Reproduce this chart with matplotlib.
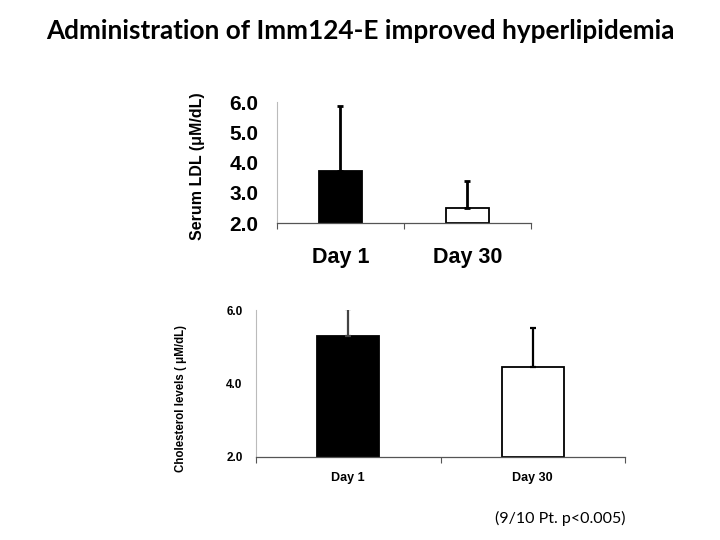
import matplotlib
matplotlib.use("Agg")
import matplotlib.pyplot as plt

# data
days = ["Day 1", "Day 30"]
ldl_mean = [3.73, 2.5]
ldl_err = [2.14, 0.89]
chol_mean = [5.28, 4.44]
chol_err = [0.75, 1.08]
ldl_ticks = [2.0, 3.0, 4.0, 5.0, 6.0]
ldl_marks = [2.0, 3.0, 5.0]
chol_ticks = [2.0, 4.0, 6.0]

plt.rcParams['font.family'] = ['Liberation Sans', 'DejaVu Sans']

fig = plt.figure(figsize=(7.2, 5.4), dpi=100)
fig.patch.set_facecolor('white')

fig.text(0.5, 0.943, "Administration of Imm124-E improved hyperlipidemia",
         ha='center', va='center', fontsize=18.8, fontweight='bold', family='Lato')
fig.text(0.778, 0.039, "(9/10 Pt. p<0.005)", ha='center', va='center',
         fontsize=11.5, family='Lato')


def style_axes(ax, ticks, marks, tick_size, lab_size, lab_pad, ylabel, ylab_size):
    ax.set_ylim(2.0, 6.0)
    ax.set_xlim(0, 2)
    ax.set_yticks(ticks)
    ax.set_yticklabels([f"{t:.1f}" for t in ticks], fontsize=tick_size, fontweight='bold')
    ax.set_yticks(marks, minor=True)
    ax.set_xticks([0.5, 1.5])
    ax.set_xticklabels(days, fontsize=lab_size, fontweight='bold')
    ax.set_xticks([0, 1, 2], minor=True)
    ax.tick_params(axis='x', which='major', length=0, pad=lab_pad)
    ax.tick_params(axis='x', which='minor', length=4, color='#555555', width=0.8, direction='out')
    ax.tick_params(axis='y', which='major', length=0, pad=tick_size * 0.6 + 4.5)
    ax.tick_params(axis='y', which='minor', length=4.5, color='#888888', width=0.8)
    ax.spines['top'].set_visible(False)
    ax.spines['right'].set_visible(False)
    ax.spines['left'].set_color('#bbbbbb')
    ax.spines['left'].set_linewidth(0.8)
    ax.spines['bottom'].set_color('#555555')
    ax.spines['bottom'].set_linewidth(0.9)
    ax.set_ylabel(ylabel, fontsize=ylab_size, fontweight='bold')


# top: serum LDL
ax1 = fig.add_axes([0.3847, 0.587, 0.3528, 0.224])
ax1.bar([0.5, 1.5], [m - 2.0 for m in ldl_mean], bottom=2.0, width=0.345,
        color=['black', 'white'], edgecolor='black', linewidth=1.3, zorder=2)
ax1.errorbar([0.5, 1.5], ldl_mean, yerr=[[0, 0], ldl_err], fmt='none',
             ecolor='black', elinewidth=2, capsize=2, capthick=2, zorder=3)
style_axes(ax1, ldl_ticks, ldl_marks, 15, 15.5, 17, "Serum LDL (\u03bcM/dL)", 11.5)
ax1.yaxis.set_label_coords(-0.285, 0.47)

# bottom: cholesterol
ax2 = fig.add_axes([0.3556, 0.1543, 0.5125, 0.2716])
ax2.bar([0.5, 1.5], [m - 2.0 for m in chol_mean], bottom=2.0, width=0.335,
        color=['black', 'white'], edgecolor='black', linewidth=1.3, zorder=2)
for x, m, e, c in zip([0.5, 1.5], chol_mean, chol_err, ['#444444', 'black']):
    ax2.errorbar([x], [m], yerr=[[0], [e]], fmt='none', ecolor=c,
                 elinewidth=1.6, capsize=2, capthick=1.6, zorder=3)
style_axes(ax2, chol_ticks, chol_ticks, 8.5, 9, 11, "Cholesterol levels ( \u03bcM/dL)", 8.3)
ax2.yaxis.set_label_coords(-0.188, 0.40)

fig.savefig("out.png", dpi=100)
